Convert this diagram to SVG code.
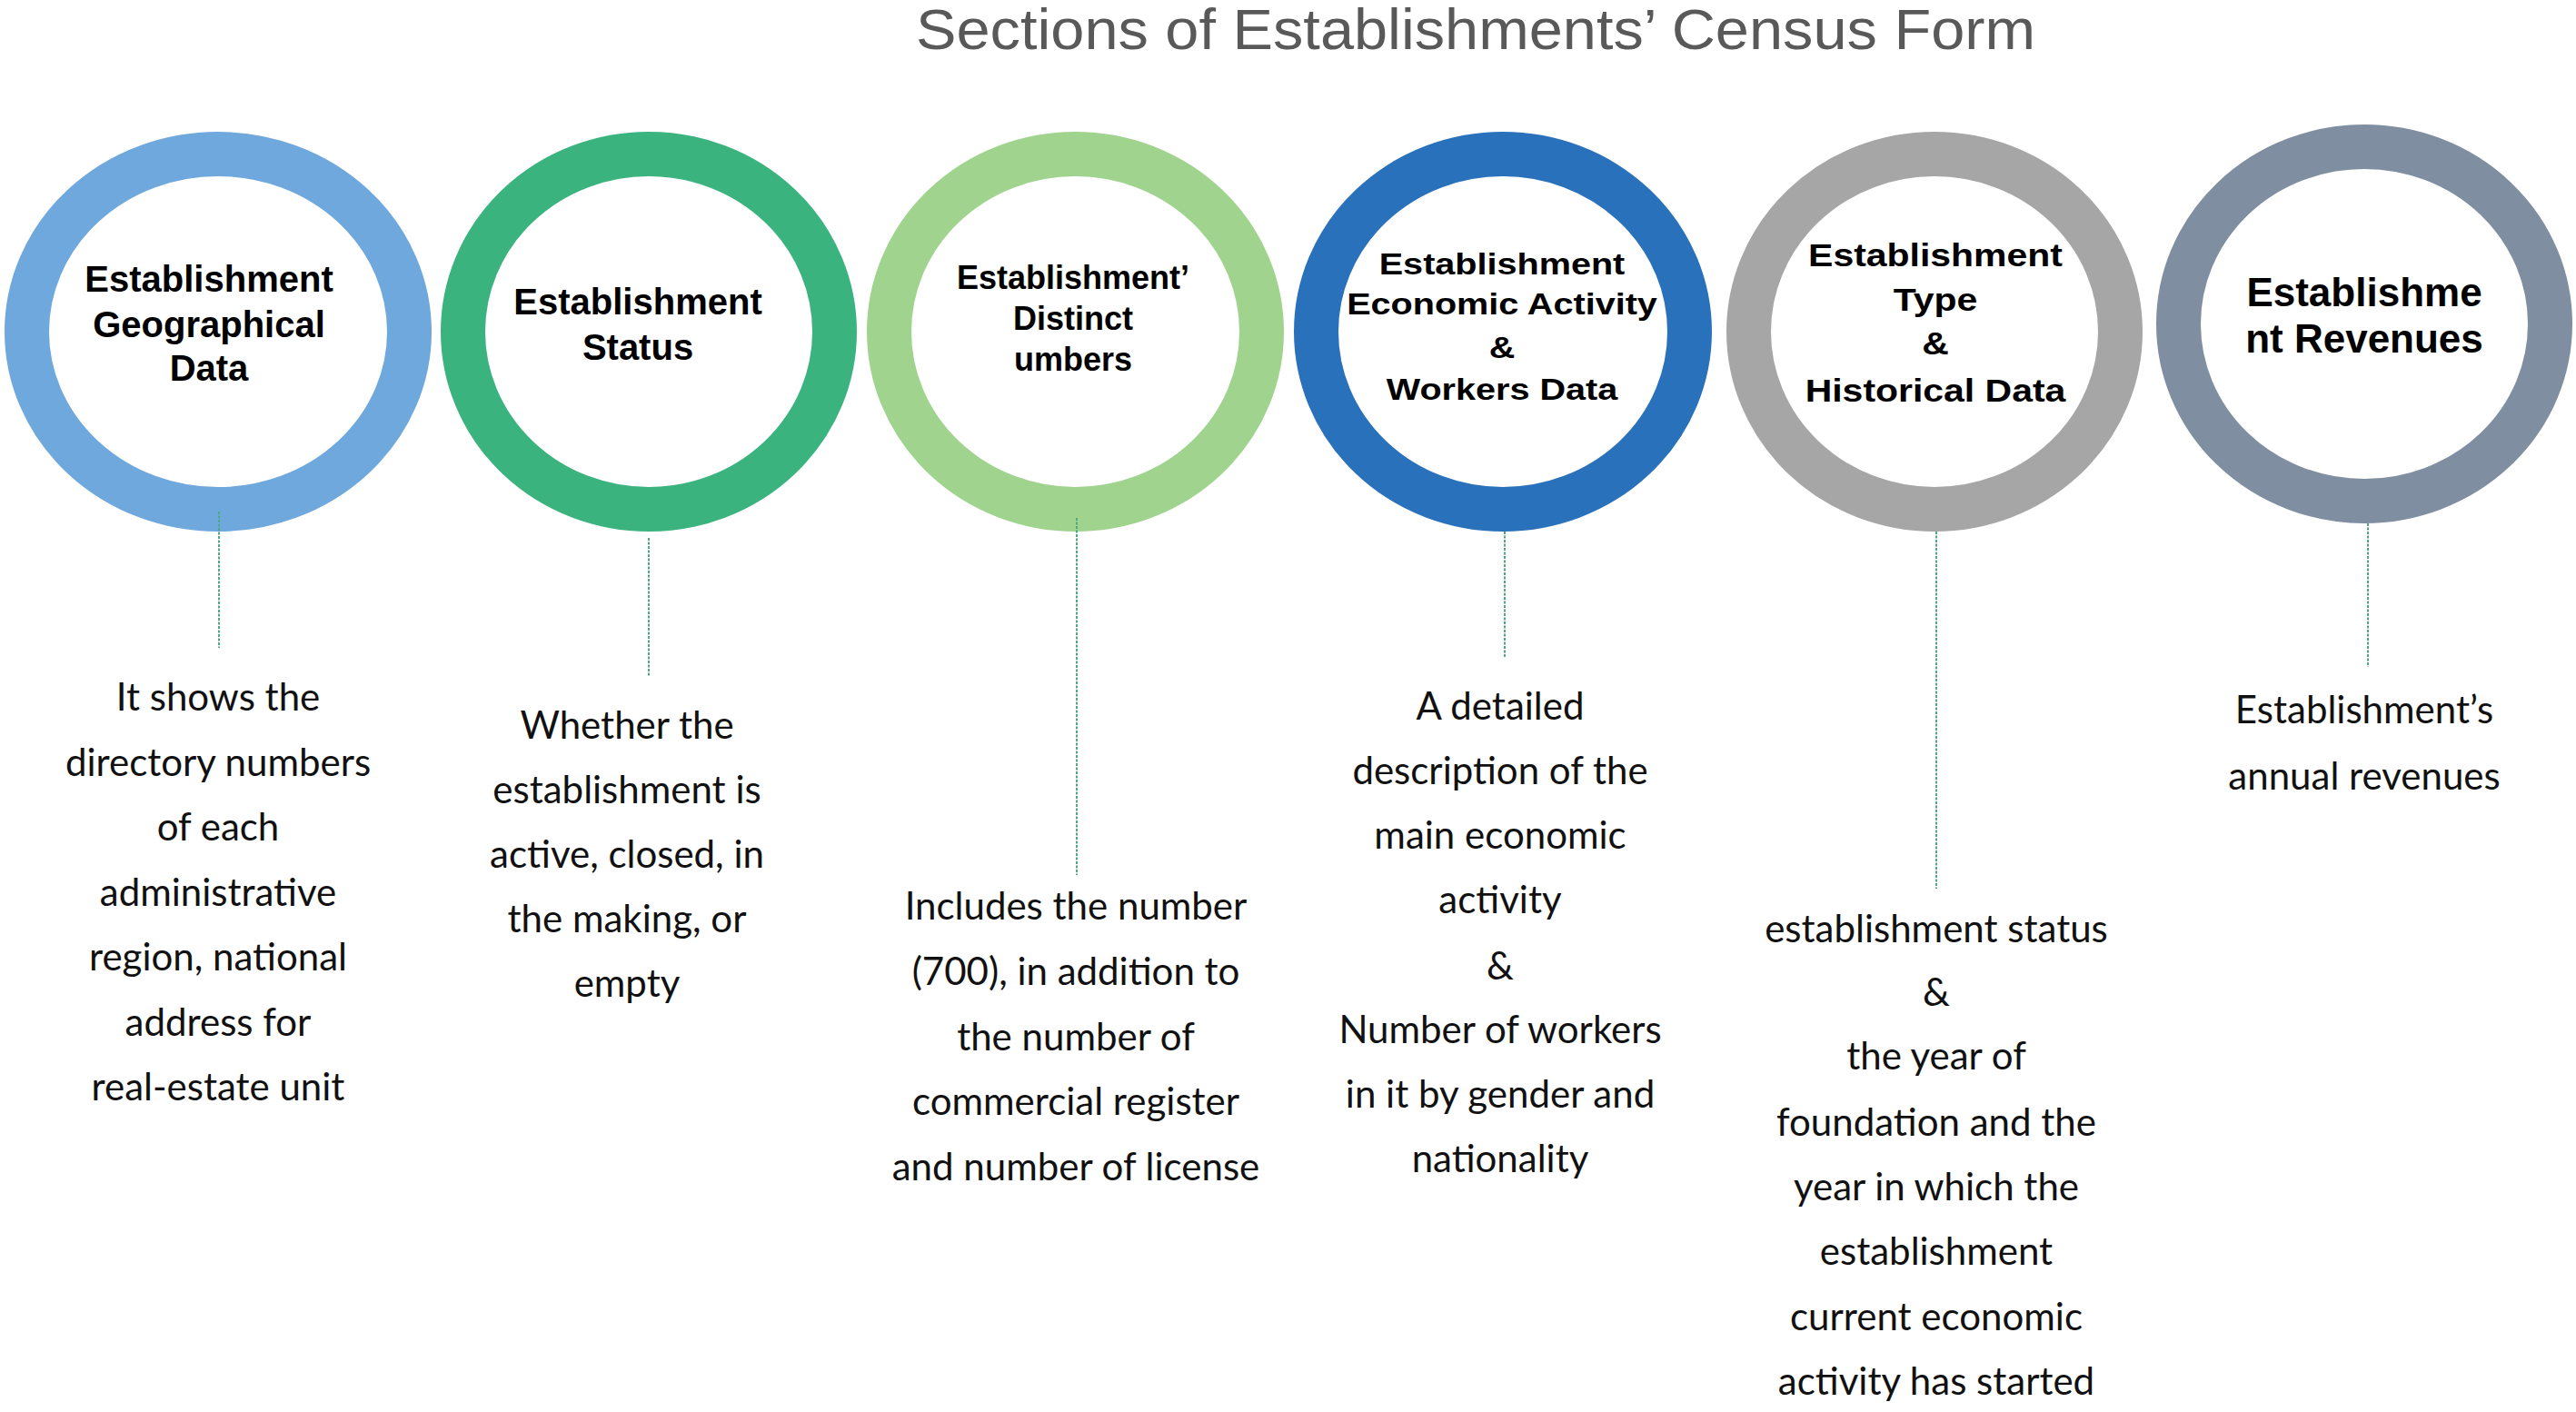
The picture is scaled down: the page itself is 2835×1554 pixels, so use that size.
<svg xmlns="http://www.w3.org/2000/svg" width="2835" height="1554" viewBox="0 0 2835 1554">
<style>
.ring{fill:none;stroke-width:49}
.hd{font-family:"Liberation Sans",Arial,sans-serif;font-weight:bold;fill:#000;text-anchor:middle}
.ds{font-family:Lato,"Open Sans",sans-serif;font-size:42px;fill:#111;text-anchor:middle}
.title{font-family:"Liberation Sans",Arial,sans-serif;font-size:63px;fill:#595959}
.conn{stroke:#4fa882;stroke-width:2;stroke-dasharray:3 1.5;fill:none}
</style>
<rect width="2835" height="1554" fill="#fff"/>
<text class="title" x="1008" y="54" textLength="1232" lengthAdjust="spacingAndGlyphs">Sections of Establishments’ Census Form</text>

<g id="node-geographical">
<ellipse class="ring" cx="240" cy="365" rx="210.5" ry="195.5" stroke="#6fa8dc"/>
<text class="hd" font-size="40"><tspan x="230" y="321">Establishment</tspan><tspan x="230" y="371">Geographical</tspan><tspan x="230" y="419">Data</tspan></text>
<text class="ds"><tspan x="240" y="782">It shows the</tspan><tspan x="240" y="853.5">directory numbers</tspan><tspan x="240" y="925">of each</tspan><tspan x="240" y="996.5">administrative</tspan><tspan x="240" y="1068">region, national</tspan><tspan x="240" y="1139.5">address for</tspan><tspan x="240" y="1211">real-estate unit</tspan></text>
</g>

<g id="node-status">
<ellipse class="ring" cx="714" cy="365" rx="204.5" ry="195.5" stroke="#3bb37e"/>
<text class="hd" font-size="40"><tspan x="702" y="346">Establishment</tspan><tspan x="702" y="396">Status</tspan></text>
<text class="ds"><tspan x="690" y="813">Whether the</tspan><tspan x="690" y="884">establishment is</tspan><tspan x="690" y="955">active, closed, in</tspan><tspan x="690" y="1026">the making, or</tspan><tspan x="690" y="1097">empty</tspan></text>
</g>

<g id="node-distinct-numbers">
<ellipse class="ring" cx="1183.5" cy="365" rx="205" ry="195.5" stroke="#a0d48e"/>
<text class="hd" font-size="36"><tspan x="1181" y="318">Establishment’</tspan><tspan x="1181" y="363">Distinct</tspan><tspan x="1181" y="408">umbers</tspan></text>
<text class="ds"><tspan x="1184" y="1012">Includes the number</tspan><tspan x="1184" y="1084">(700), in addition to</tspan><tspan x="1184" y="1156">the number of</tspan><tspan x="1184" y="1227">commercial register</tspan><tspan x="1184" y="1299">and number of license</tspan></text>
</g>

<g id="node-economic-activity">
<ellipse class="ring" cx="1654" cy="365" rx="205.5" ry="195.5" stroke="#2a71bb"/>
<g transform="translate(1653 0) scale(1.2 1)"><text class="hd" font-size="33"><tspan x="0" y="302">Establishment</tspan><tspan x="0" y="346">Economic Activity</tspan><tspan x="0" y="394">&amp;</tspan><tspan x="0" y="440">Workers Data</tspan></text></g>
<text class="ds"><tspan x="1651" y="792">A detailed</tspan><tspan x="1651" y="863">description of the</tspan><tspan x="1651" y="934">main economic</tspan><tspan x="1651" y="1005">activity</tspan><tspan x="1651" y="1078">&amp;</tspan><tspan x="1651" y="1148">Number of workers</tspan><tspan x="1651" y="1219">in it by gender and</tspan><tspan x="1651" y="1290">nationality</tspan></text>
</g>

<g id="node-type-history">
<ellipse class="ring" cx="2129" cy="365" rx="204.5" ry="195.5" stroke="#a6a6a6"/>
<g transform="translate(2130 0) scale(1.17 1)"><text class="hd" font-size="35"><tspan x="0" y="293">Establishment</tspan><tspan x="0" y="342">Type</tspan><tspan x="0" y="390">&amp;</tspan><tspan x="0" y="442">Historical Data</tspan></text></g>
<text class="ds"><tspan x="2131" y="1037">establishment status</tspan><tspan x="2131" y="1107">&amp;</tspan><tspan x="2131" y="1177">the year of</tspan><tspan x="2131" y="1250">foundation and the</tspan><tspan x="2131" y="1321">year in which the</tspan><tspan x="2131" y="1392">establishment</tspan><tspan x="2131" y="1464">current economic</tspan><tspan x="2131" y="1535">activity has started</tspan></text>
</g>

<g id="node-revenues">
<ellipse class="ring" cx="2602" cy="356.5" rx="204.5" ry="195" stroke="#7f8ea0"/>
<text class="hd" font-size="44"><tspan x="2602" y="337">Establishme</tspan><tspan x="2602" y="388">nt Revenues</tspan></text>
<text class="ds"><tspan x="2602" y="796">Establishment’s</tspan><tspan x="2602" y="869">annual revenues</tspan></text>
</g>

<g id="connectors">
<line class="conn" x1="241" y1="563" x2="241" y2="713"/>
<line class="conn" x1="714" y1="592" x2="714" y2="744"/>
<line class="conn" x1="1185" y1="570" x2="1185" y2="963"/>
<line class="conn" x1="1656" y1="585" x2="1656" y2="723"/>
<line class="conn" x1="2131" y1="585" x2="2131" y2="978"/>
<line class="conn" x1="2606" y1="576" x2="2606" y2="734"/>
</g>
</svg>
